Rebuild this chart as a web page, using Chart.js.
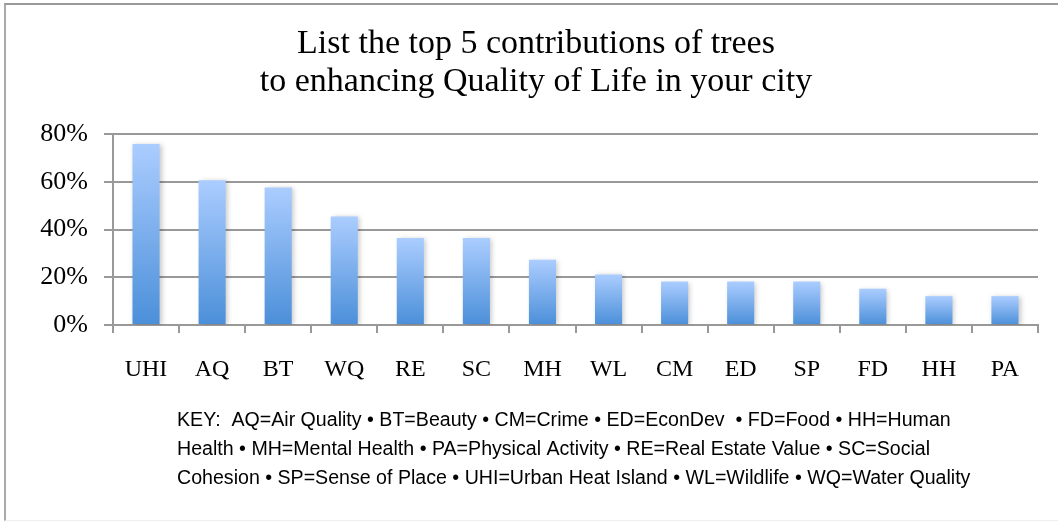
<!DOCTYPE html>
<html>
<head>
<meta charset="utf-8">
<script src="https://cdn.jsdelivr.net/npm/chart.js@4"></script>
<style>
  html, body { margin: 0; padding: 0; background: #fff; }
  #wrap { position: relative; width: 1058px; height: 521px; }
  #frame {
    position: absolute; left: 4px; top: 3px; width: 1070px; height: 515px;
    border-left: 2px solid #aaa; border-top: 2px solid #999; border-bottom: 1px solid #eee;
    pointer-events: none;
  }
</style>
</head>
<body>
<div id="wrap">
  <canvas id="chartTrees"></canvas>
  <div id="frame"></div>
</div>
<script>
  const categories = ['UHI', 'AQ', 'BT', 'WQ', 'RE', 'SC', 'MH', 'WL', 'CM', 'ED', 'SP', 'FD', 'HH', 'PA'];
  const shares = [75.8, 60.6, 57.6, 45.5, 36.4, 36.4, 27.3, 21.2, 18.2, 18.2, 18.2, 15.2, 12.1, 12.1];
  const yTicks = [0, 20, 40, 60, 80];
  const titleLines = ['List the top 5 contributions of trees', 'to enhancing Quality of Life in your city'];
  const keyLines = [
    'KEY:  AQ=Air Quality \u2022 BT=Beauty \u2022 CM=Crime \u2022 ED=EconDev  \u2022 FD=Food \u2022 HH=Human',
    'Health \u2022 MH=Mental Health \u2022 PA=Physical Activity \u2022 RE=Real Estate Value \u2022 SC=Social',
    'Cohesion \u2022 SP=Sense of Place \u2022 UHI=Urban Heat Island \u2022 WL=Wildlife \u2022 WQ=Water Quality',
  ];

  const serif = "'Liberation Serif', 'DejaVu Serif', serif";
  const gridGray = '#999999';

  // per-bar vertical gradient, light at the top of each bar
  function barFill(ctx) {
    const chart = ctx.chart;
    const area = chart.chartArea;
    if (!area || ctx.type !== 'data') return '#7fb0ec';
    const yTop = chart.scales.y.getPixelForValue(ctx.raw);
    const g = chart.ctx.createLinearGradient(0, yTop, 0, area.bottom);
    g.addColorStop(0, '#abcdff');
    g.addColorStop(1, '#4b8fd9');
    return g;
  }

  const barShadow = {
    id: 'barShadow',
    beforeDatasetsDraw(chart) {
      const c = chart.ctx;
      c.save();
      c.shadowColor = 'rgba(0, 0, 0, 0.22)';
      c.shadowBlur = 5;
      c.shadowOffsetX = 2;
      c.shadowOffsetY = 1;
    },
    afterDatasetsDraw(chart) {
      chart.ctx.restore();
    },
  };

  const keyText = {
    id: 'keyText',
    afterDraw(chart) {
      const c = chart.ctx;
      c.save();
      c.fillStyle = '#000';
      c.font = "19.6px 'Liberation Sans', Arial, sans-serif";
      c.textAlign = 'left';
      c.textBaseline = 'alphabetic';
      keyLines.forEach((line, i) => {
        c.fillText(line, 177, chart.chartArea.bottom + 101 + i * 29);
      });
      c.restore();
    },
  };

  new Chart(document.getElementById('chartTrees'), {
    type: 'bar',
    data: {
      labels: categories,
      datasets: [{
        data: shares,
        backgroundColor: barFill,
        borderWidth: 0,
        categoryPercentage: 1,
        barPercentage: 0.41,
      }],
    },
    options: {
      responsive: true,
      maintainAspectRatio: false,
      animation: false,
      layout: { padding: { left: 34, right: 20, top: 0, bottom: 136 } },
      plugins: {
        legend: { display: false },
        tooltip: { enabled: false },
        title: {
          display: true,
          text: titleLines,
          color: '#000',
          font: { family: serif, size: 34, weight: 'normal', lineHeight: 1.118 },
          padding: { top: 25, bottom: 33 },
        },
      },
      scales: {
        x: {
          grid: {
            offset: true,
            drawOnChartArea: false,
            drawTicks: true,
            tickLength: 8,
            color: gridGray,
            lineWidth: 2,
          },
          border: { display: true, color: gridGray, width: 2 },
          ticks: {
            color: '#000',
            font: { family: serif, size: 24 },
            padding: 22,
            maxRotation: 0,
            autoSkip: false,
          },
          afterFit(scale) { scale.height = 60; },
        },
        y: {
          min: 0,
          max: 80,
          afterBuildTicks(scale) { scale.ticks = yTicks.map((v) => ({ value: v })); },
          grid: { color: gridGray, lineWidth: 2, tickLength: 9 },
          border: { display: true, color: gridGray, width: 2 },
          ticks: {
            color: '#000',
            font: { family: serif, size: 26 },
            padding: 16,
            callback: (v) => v + '%',
          },
          afterFit(scale) { scale.width = 79; },
        },
      },
    },
    plugins: [barShadow, keyText],
  });
</script>
</body>
</html>
